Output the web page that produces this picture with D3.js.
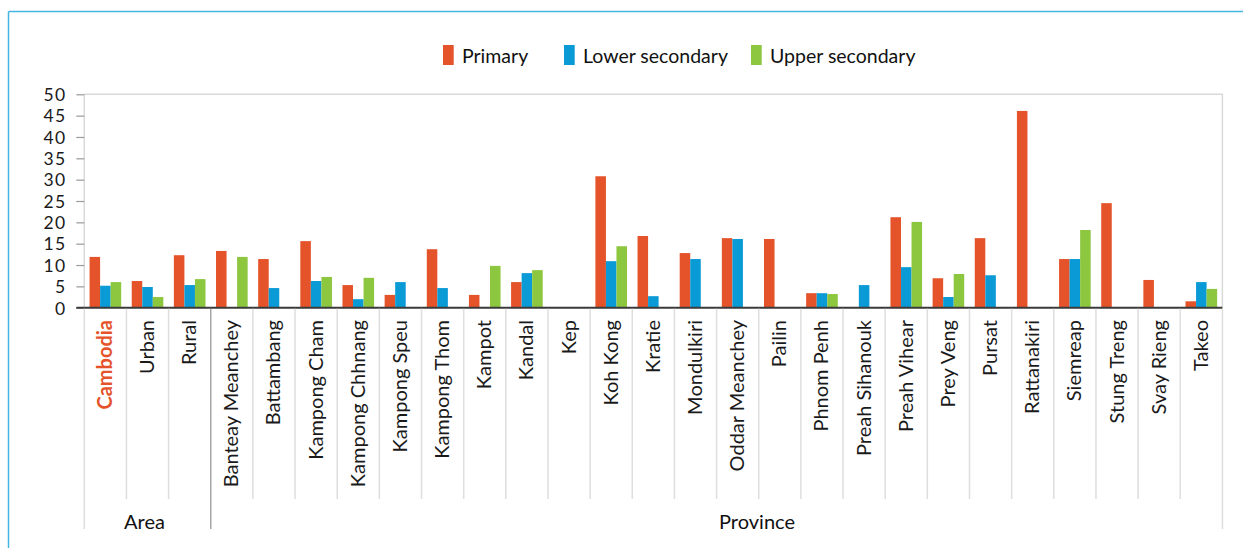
<!DOCTYPE html>
<html>
<head>
<meta charset="utf-8">
<script src="https://cdn.jsdelivr.net/npm/d3@7"></script>
<style>
  html, body { margin: 0; padding: 0; background: #fff; }
  svg { display: block; font-family: Lato, "Open Sans", sans-serif; }
</style>
</head>
<body>
<svg id="chart" width="1243" height="548"></svg>
<script>
const categories = ["Cambodia","Urban","Rural","Banteay Meanchey","Battambang","Kampong Cham","Kampong Chhnang","Kampong Speu","Kampong Thom","Kampot","Kandal","Kep","Koh Kong","Kratie","Mondulkiri","Oddar Meanchey","Pailin","Phnom Penh","Preah Sihanouk","Preah Vihear","Prey Veng","Pursat","Rattanakiri","Siemreap","Stung Treng","Svay Rieng","Takeo"];
const seriesNames = ["Primary","Lower secondary","Upper secondary"];
const primary =        [11.9, 6.25, 12.3, 13.3, 11.4, 15.6, 5.3, 3.0, 13.7, 3.0, 6.0, 0, 30.8, 16.8, 12.8, 16.3, 16.1, 3.4, 0, 21.2, 6.9, 16.3, 46.1, 11.4, 24.5, 6.5, 1.5];
const lowerSecondary = [5.15, 4.85, 5.3, 0, 4.6, 6.25, 2.0, 6.0, 4.6, 0, 8.1, 0, 10.9, 2.7, 11.4, 16.1, 0, 3.4, 5.3, 9.5, 2.5, 7.6, 0, 11.4, 0, 0, 6.0];
const upperSecondary = [6.0, 2.5, 6.7, 11.9, 0, 7.2, 7.0, 0, 0, 9.8, 8.8, 0, 14.4, 0, 0, 0, 0, 3.2, 0, 20.1, 7.9, 0, 0, 18.2, 0, 0, 4.4];
const yTicks = [0,5,10,15,20,25,30,35,40,45,50];
const groups = [{name:"Area", from:"Cambodia", to:"Rural"}, {name:"Province", from:"Banteay Meanchey", to:"Takeo"}];

const colors = {"Primary":"#E5532A","Lower secondary":"#0A9AD6","Upper secondary":"#8DC63F"};
const seriesData = {"Primary":primary,"Lower secondary":lowerSecondary,"Upper secondary":upperSecondary};

const svg = d3.select("#chart");
const plotL = 84.3, plotR = 1222.4, plotT = 94.3, plotB = 307.7;

// outer light-blue frame (top + left)
svg.append("line").attr("x1",8.5).attr("x2",1243).attr("y1",11.5).attr("y2",11.5).attr("stroke","#45B6E3").attr("stroke-width",1.5);
svg.append("line").attr("x1",8.5).attr("x2",8.5).attr("y1",11.5).attr("y2",548).attr("stroke","#45B6E3").attr("stroke-width",1.5);

const x0 = d3.scaleBand().domain(categories).range([plotL, plotR]).padding(0);
const x1 = d3.scaleBand().domain(seriesNames).range([0, x0.bandwidth()]).paddingInner(0).paddingOuter(0.5);
const y = d3.scaleLinear().domain([0, 50]).range([plotB, plotT]);

// plot frame
svg.append("path")
  .attr("d", `M${plotL},${plotB} V${plotT} H${plotR} V${plotB}`)
  .attr("fill","none").attr("stroke","#d9d9d9").attr("stroke-width",1.5);

// y axis
const yAxis = d3.axisLeft(y).tickValues(yTicks).tickSize(8).tickPadding(10);
const gy = svg.append("g").attr("transform",`translate(${plotL},0)`).call(yAxis);
gy.select(".domain").remove();
gy.selectAll(".tick line").attr("stroke","#9a9a9a").attr("stroke-width",1.2);
gy.selectAll(".tick text")
  .attr("font-size",17.5).attr("letter-spacing",1.2)
  .attr("fill","#1a1a1a").attr("font-family","Lato, sans-serif").attr("dy","0.36em");

// bars
const bars = [];
categories.forEach((c,i) => seriesNames.forEach(s => bars.push({cat:c, s:s, v:seriesData[s][i]})));
svg.append("g").selectAll("rect").data(bars.filter(d => d.v > 0)).join("rect")
  .attr("x", d => x0(d.cat) + x1(d.s))
  .attr("width", x1.bandwidth())
  .attr("y", d => y(d.v))
  .attr("height", d => y(0) - y(d.v))
  .attr("fill", d => colors[d.s]);

// baseline
svg.append("line").attr("x1",plotL-8).attr("x2",plotR).attr("y1",y(0)).attr("y2",y(0)).attr("stroke","#3a3a3a").attr("stroke-width",2);

// category separators
const bounds = categories.map(c => x0(c)).concat([plotR]);
const groupEdges = [x0("Cambodia"), x0("Banteay Meanchey"), plotR];
svg.append("g").selectAll("line").data(bounds).join("line")
  .attr("x1", d => d).attr("x2", d => d)
  .attr("y1", y(0) + 1)
  .attr("y2", d => groupEdges.some(e => Math.abs(e-d) < 0.5) ? 529 : 499)
  .attr("stroke", d => (Math.abs(d - x0("Banteay Meanchey")) < 0.5) ? "#a6a6a6" : "#dedede")
  .attr("stroke-width", 1.5);

// category labels
svg.append("g").selectAll("text").data(categories).join("text")
  .attr("transform", d => `translate(${x0(d) + x0.bandwidth()/2 + 6.5},320) rotate(-90)`)
  .attr("text-anchor","end")
  .attr("font-size",20)
  .attr("font-weight", d => d === "Cambodia" ? "bold" : "normal")
  .attr("fill", d => d === "Cambodia" ? "#E5532A" : "#1a1a1a")
  .text(d => d);

// group labels
svg.append("text").attr("x", (x0("Cambodia") + x0("Rural") + x0.bandwidth())/2 - 3).attr("y", 529)
  .attr("text-anchor","middle").attr("font-size",20).attr("fill","#111").text(groups[0].name);
svg.append("text").attr("x", 757).attr("y", 529)
  .attr("text-anchor","middle").attr("font-size",20).attr("fill","#111").text(groups[1].name);

// legend
const legendX = [443, 564, 751];
const lg = svg.append("g");
seriesNames.forEach((s,i) => {
  lg.append("rect").attr("x",legendX[i]).attr("y",45).attr("width",10.7).attr("height",20).attr("fill",colors[s]);
  lg.append("text").attr("x",legendX[i]+19).attr("y",62.5).attr("font-size",19.5).attr("fill","#111").text(s);
});
</script>
</body>
</html>
